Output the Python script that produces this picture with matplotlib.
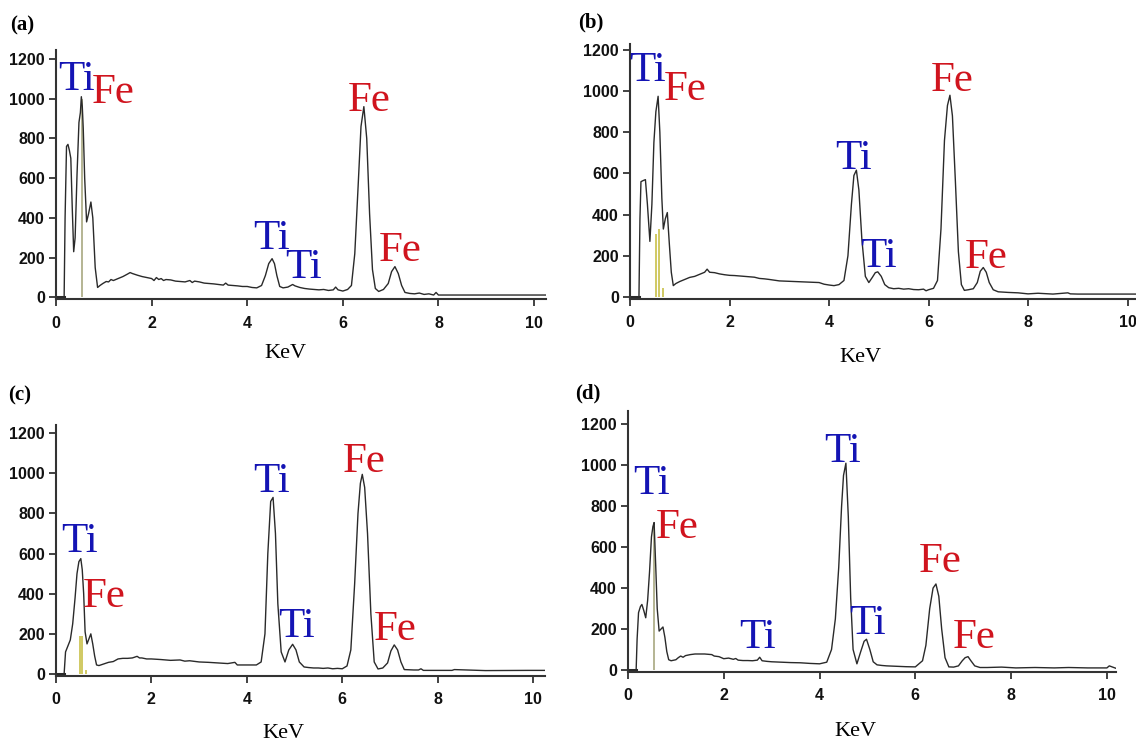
import matplotlib
matplotlib.use('Agg')
import matplotlib.pyplot as plt

# -------------------------
# Spectra (keV, counts)
# -------------------------
keV_a = [
    0.00, 0.17, 0.19, 0.22, 0.25, 0.28, 0.31, 0.34, 0.37, 0.40,
    0.44, 0.48, 0.51, 0.53, 0.55, 0.57, 0.60, 0.64, 0.68, 0.73,
    0.77, 0.82, 0.87, 0.92, 0.98, 1.05, 1.10, 1.15, 1.20, 1.30,
    1.40, 1.50, 1.55, 1.60, 1.70, 1.80, 1.90, 2.00, 2.05, 2.10,
    2.15, 2.20, 2.25, 2.30, 2.40, 2.50, 2.60, 2.70, 2.80, 2.85,
    2.90, 3.00, 3.10, 3.20, 3.30, 3.40, 3.50, 3.55, 3.60, 3.70,
    3.80, 3.90, 4.00, 4.10, 4.20, 4.30, 4.38, 4.45, 4.52, 4.57,
    4.62, 4.68, 4.75, 4.85, 4.95, 5.00, 5.10, 5.20, 5.30, 5.40,
    5.50, 5.60, 5.70, 5.80, 5.85, 5.90, 6.00, 6.10, 6.18, 6.25,
    6.32, 6.38, 6.44, 6.50, 6.56, 6.62, 6.68, 6.75, 6.85, 6.95,
    7.02, 7.09, 7.16, 7.23, 7.30, 7.40, 7.50, 7.60, 7.70, 7.80,
    7.90, 7.95, 8.00, 10.25]
counts_a = [
    0, 0, 400, 760, 770, 740, 700, 450, 230, 300,
    620, 880, 930, 1010, 960, 850, 600, 380, 420, 480,
    400, 150, 50, 60, 70, 80, 78, 90, 85, 95,
    105, 118, 125, 120, 112, 105, 100, 95, 85, 100,
    90, 95, 85, 90, 88, 82, 80, 78, 85, 75,
    82, 78, 72, 70, 68, 65, 62, 72, 62, 60,
    58, 55, 55, 50, 48, 60, 110, 170, 195, 170,
    110, 55, 48, 52, 65, 58, 50, 45, 42, 40,
    38, 40, 35, 38, 52, 38, 32, 40, 60, 220,
    560, 860, 960, 800, 420, 140, 45, 30, 40, 70,
    130, 155, 120, 60, 25, 20, 18, 22, 15, 18,
    12, 25, 12, 12]

keV_b = [
    0.00, 0.18, 0.20, 0.22, 0.26, 0.31, 0.35, 0.40, 0.44, 0.48,
    0.52, 0.565, 0.60, 0.64, 0.67, 0.71, 0.75, 0.79, 0.83, 0.87,
    0.92, 1.00, 1.10, 1.20, 1.30, 1.40, 1.50, 1.55, 1.60, 1.70,
    1.80, 1.90, 2.00, 2.10, 2.20, 2.30, 2.40, 2.50, 2.60, 2.70,
    2.80, 3.00, 3.20, 3.40, 3.60, 3.80, 3.90, 4.00, 4.10, 4.20,
    4.30, 4.38, 4.45, 4.50, 4.55, 4.60, 4.66, 4.73, 4.80, 4.87,
    4.93, 4.98, 5.05, 5.12, 5.20, 5.30, 5.40, 5.50, 5.60, 5.70,
    5.80, 5.90, 5.95, 6.00, 6.10, 6.18, 6.25, 6.32, 6.38, 6.43,
    6.48, 6.54, 6.60, 6.66, 6.72, 6.80, 6.90, 6.98, 7.04, 7.10,
    7.16, 7.22, 7.30, 7.40, 7.60, 7.80, 8.00, 8.20, 8.50, 8.80,
    8.85, 9.00, 10.25]
counts_b = [
    0, 0, 380, 560, 565, 570, 450, 270, 450, 750,
    900, 975, 800, 480, 330, 380, 410, 260, 120, 55,
    65, 75, 85, 95, 100, 110, 120, 135, 120, 118,
    112, 108, 105, 104, 102, 100, 98, 96, 90, 88,
    85, 78, 76, 74, 72, 70, 62, 58, 55, 60,
    80, 200, 450, 590, 616, 520, 280, 100, 70, 95,
    118, 122, 100, 60, 45, 40, 42, 38, 40, 36,
    35, 38, 30, 35, 42, 80, 330, 760, 930, 980,
    880, 560, 220, 60, 32, 35, 40, 70, 125, 143,
    120, 70, 35, 25, 22, 20, 15, 18, 14, 20,
    15, 14, 14]

keV_c = [
    0.00, 0.17, 0.20, 0.25, 0.30, 0.35, 0.40, 0.44, 0.48, 0.52,
    0.55, 0.58, 0.61, 0.65, 0.69, 0.73, 0.77, 0.81, 0.85, 0.90,
    1.00, 1.10, 1.20, 1.30, 1.40, 1.50, 1.60, 1.70, 1.75, 1.80,
    1.90, 2.00, 2.20, 2.40, 2.60, 2.70, 2.80, 3.00, 3.20, 3.40,
    3.60, 3.75, 3.80, 4.00, 4.20, 4.30, 4.38, 4.44, 4.50, 4.55,
    4.60, 4.65, 4.72, 4.80, 4.88, 4.96, 5.03, 5.10, 5.20, 5.30,
    5.40, 5.50, 5.60, 5.70, 5.80, 5.90, 6.00, 6.10, 6.18, 6.26,
    6.33, 6.38, 6.42, 6.47, 6.53, 6.60, 6.67, 6.75, 6.85, 6.95,
    7.02, 7.09, 7.16, 7.23, 7.30, 7.50, 7.60, 7.65, 7.70, 8.00,
    8.30, 8.35, 9.00, 9.90, 10.25]
counts_c = [
    0, 0, 110, 140, 170, 250, 380, 500, 560, 575,
    520, 400, 210, 150, 175, 200, 150, 90, 45, 42,
    50, 58, 62, 75, 78, 78, 80, 88, 80, 80,
    75, 75, 72, 68, 70, 64, 66, 60, 58, 55,
    52, 58, 45, 45, 45, 60, 200, 600, 860, 880,
    700, 350, 110, 60, 120, 148, 120, 60, 35, 32,
    30, 30, 28, 30, 26, 28, 26, 40, 120, 450,
    800, 950, 995, 930, 700, 300, 60, 25, 30, 55,
    115, 145, 120, 60, 22, 20, 20, 26, 18, 18,
    18, 22, 17, 18, 18]

keV_d = [
    0.00, 0.17, 0.19, 0.22, 0.26, 0.29, 0.33, 0.37, 0.41, 0.45,
    0.49, 0.52, 0.545, 0.58, 0.61, 0.65, 0.69, 0.73, 0.77, 0.81,
    0.85, 0.90, 1.00, 1.05, 1.10, 1.15, 1.20, 1.30, 1.40, 1.50,
    1.60, 1.70, 1.75, 1.80, 1.90, 2.00, 2.10, 2.20, 2.25, 2.30,
    2.40, 2.50, 2.60, 2.70, 2.75, 2.80, 2.90, 3.00, 3.20, 3.40,
    3.60, 3.80, 4.00, 4.15, 4.25, 4.33, 4.40, 4.46, 4.50, 4.55,
    4.60, 4.65, 4.70, 4.78, 4.86, 4.93, 4.98, 5.05, 5.12, 5.20,
    5.30, 5.40, 5.60, 5.80, 6.00, 6.05, 6.15, 6.22, 6.30, 6.37,
    6.43, 6.49, 6.55, 6.62, 6.70, 6.80, 6.90, 6.98, 7.04, 7.10,
    7.16, 7.24, 7.35, 7.50, 7.80, 8.10, 8.50, 8.90, 9.20, 9.60,
    10.00, 10.05, 10.19]
counts_d = [
    0, 0, 150, 280, 310, 320, 290, 255, 340, 480,
    650, 700, 720, 500, 300, 190, 200, 210, 160, 90,
    50, 45, 50, 60, 68, 62, 70, 75, 78, 78,
    78, 76, 75, 68, 65, 55, 58, 52, 56, 48,
    46, 46, 45, 48, 62, 45, 42, 40, 38, 36,
    35, 32, 30, 38, 100, 250, 500, 800, 950, 1010,
    750, 350, 100, 30, 90, 140, 150, 100, 40, 25,
    22, 20, 18, 16, 15, 25, 45, 120, 300, 400,
    420, 360, 200, 60, 15, 14, 20, 45, 60, 65,
    45, 20, 12, 12, 14, 10, 12, 10, 12, 10,
    10, 20, 8]

# element marker lines (keV, height)
marks_a = [(0.55, 1000)]
marks_b = [(0.53, 305), (0.58, 330), (0.67, 45)]
marks_c = [(0.50, 190), (0.54, 190), (0.62, 20)]
marks_d = [(0.545, 710)]

# element labels (text, keV centre, baseline counts)
labels_a = [('Ti', 0.44, 1045), ('Fe', 1.20, 978), ('Fe', 6.55, 936),
            ('Ti', 4.50, 242), ('Ti', 5.18, 100), ('Fe', 7.20, 184)]
labels_b = [('Ti', 0.35, 1047), ('Fe', 1.10, 956), ('Fe', 6.48, 1001),
            ('Ti', 4.50, 620), ('Ti', 5.00, 147), ('Fe', 7.15, 143)]
labels_c = [('Ti', 0.49, 606), ('Fe', 1.02, 333), ('Ti', 4.52, 908),
            ('Fe', 6.45, 1007), ('Ti', 5.04, 185), ('Fe', 7.12, 168)]
labels_d = [('Ti', 0.49, 861), ('Fe', 1.02, 647), ('Ti', 2.70, 105),
            ('Ti', 4.49, 1016), ('Ti', 5.01, 178), ('Fe', 6.52, 477),
            ('Fe', 7.22, 108)]

panel_names = ['(a)', '(b)', '(c)', '(d)']

# -------------------------
# Layout (pixels of the 1136x746 picture)
# -------------------------
W, H = 1136, 746
fig = plt.figure(figsize=(W / 100, H / 100), dpi=100)

# left, top, right, bottom, xmax, ymax
boxes = [
    (56, 50, 546, 299, 10.25, 1245),
    (630, 44, 1140, 298.6, 10.25, 1229),
    (56, 425, 545, 675.6, 10.25, 1241),
    (628, 411, 1116, 671.6, 10.19, 1265),
]
name_pos = [(10, 25), (578, 22), (8, 395), (575, 393)]
kev_pos = [(285, 353), (860, 358), (283, 734), (855, 731)]

spectra = [(keV_a, counts_a), (keV_b, counts_b), (keV_c, counts_c), (keV_d, counts_d)]
marks = [marks_a, marks_b, marks_c, marks_d]
labels = [labels_a, labels_b, labels_c, labels_d]
mark_colors = ['#a8a880', '#c8c048', '#c8c048', '#a8a880']

tick_font = ['Liberation Sans', 'DejaVu Sans']
serif = ['Liberation Serif', 'DejaVu Serif']
colors = {'Ti': '#1414b4', 'Fe': '#d0141e'}

for i in range(4):
    left, top, right, bottom, xmax, ymax = boxes[i]
    ax = fig.add_axes([left / W, 1 - bottom / H, (right - left) / W, (bottom - top) / H])
    x, y = spectra[i]
    ax.plot(x, y, color='#2a2a2a', linewidth=1.0)
    # flat zero run before the first channel is drawn heavier
    ax.plot(x[:2], y[:2], color='#2a2a2a', linewidth=2.2)

    for mx, mh in marks[i]:
        ax.vlines(mx, 0, mh, color=mark_colors[i], linewidth=1.2, zorder=1)

    for s, lx, ly in labels[i]:
        ax.text(lx, ly, s, color=colors[s], fontsize=31, family=serif,
                ha='center', va='baseline', clip_on=False)

    ax.set_xlim(0, xmax)
    ax.set_ylim(-8, ymax)
    ax.set_xticks(range(0, 11, 2))
    ax.set_yticks(range(0, 1201, 200))

    for side in ['top', 'right']:
        ax.spines[side].set_visible(False)
    for side in ['left', 'bottom']:
        ax.spines[side].set_color('#333333')
        ax.spines[side].set_linewidth(1.5)

    ax.tick_params(axis='both', direction='out', length=5, width=1.3,
                   color='#333333', labelsize=11.5)
    ax.tick_params(axis='x', pad=7)
    ax.tick_params(axis='y', pad=3)
    for lab in ax.get_xticklabels() + ax.get_yticklabels():
        lab.set_family(tick_font)
        lab.set_fontweight('bold')
        lab.set_color('#111111')

    nx, ny = name_pos[i]
    fig.text(nx / W, 1 - ny / H, panel_names[i], fontsize=15, fontweight='bold',
             family=serif, ha='left', va='center')
    kx, ky = kev_pos[i]
    fig.text(kx / W, 1 - ky / H, 'KeV', fontsize=16, family=serif,
             ha='center', va='center')

fig.savefig('out.png', dpi=100)
